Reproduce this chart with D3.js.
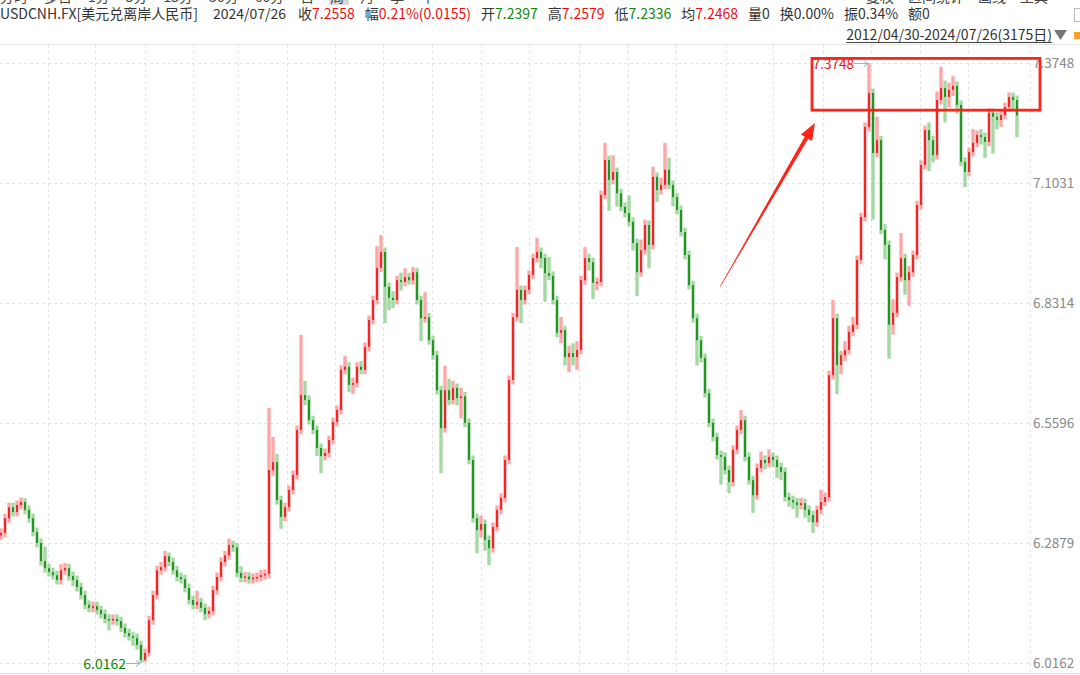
<!DOCTYPE html>
<html>
<head>
<meta charset="utf-8">
<script src="https://cdn.jsdelivr.net/npm/d3@7"></script>
<style>
  html, body { margin: 0; padding: 0; background: #fff; }
  svg { display: block; font-family: "Noto Sans CJK SC", "Noto Sans", sans-serif; }
</style>
</head>
<body>
<svg id="chart" width="1080" height="675"></svg>
<script>
/* ============================================================
   DATA — USDCNH, 2012/04/30 – 2024/07/26.
   Each candle stands for ~12 trading days.
   ============================================================ */

const opens = [
  6.305,6.311,6.344,6.369,6.358,6.374,6.381,6.363,6.344,6.313,
  6.288,6.247,6.231,6.222,6.215,6.204,6.226,6.231,6.213,6.204,
  6.188,6.170,6.148,6.141,6.145,6.136,6.127,6.116,6.113,6.116,
  6.111,6.096,6.084,6.077,6.073,6.057,6.023,6.039,6.113,6.170,
  6.226,6.233,6.258,6.245,6.226,6.211,6.206,6.186,6.159,6.148,
  6.154,6.141,6.127,6.134,6.181,6.211,6.245,6.260,6.283,6.278,
  6.220,6.209,6.212,6.206,6.209,6.211,6.215,6.218,6.453,6.471,
  6.385,6.347,6.369,6.408,6.442,6.544,6.623,6.612,6.566,6.544,
  6.503,6.485,6.492,6.521,6.562,6.589,6.680,6.687,6.646,6.650,
  6.687,6.680,6.732,6.793,6.838,6.911,6.947,6.868,6.843,6.838,
  6.883,6.879,6.890,6.883,6.901,6.838,6.797,6.799,6.747,6.713,
  6.634,6.548,6.634,6.612,6.639,6.616,6.620,6.560,6.476,6.344,
  6.317,6.331,6.295,6.276,6.324,6.363,6.390,6.476,6.657,6.799,
  6.861,6.838,6.861,6.895,6.933,6.947,6.933,6.899,6.893,6.838,
  6.764,6.770,6.709,6.718,6.709,6.725,6.883,6.933,6.924,6.877,
  6.879,7.076,7.155,7.110,7.128,7.080,7.049,7.035,7.015,6.967,
  6.901,6.951,7.008,6.963,7.117,7.087,7.099,7.133,7.099,7.071,
  7.042,6.992,6.940,6.872,6.797,6.747,6.707,6.627,6.560,6.528,
  6.487,6.483,6.453,6.426,6.499,6.544,6.566,6.483,6.430,6.396,
  6.458,6.476,6.469,6.483,6.476,6.460,6.449,6.392,6.385,6.380,
  6.374,6.378,6.363,6.351,6.335,6.363,6.381,6.392,6.668,6.797,
  6.691,6.713,6.725,6.766,6.782,6.929,7.026,7.230,7.307,7.171,
  7.200,6.997,6.963,6.782,6.809,6.890,6.933,6.883,6.901,6.940,
  7.053,7.144,7.223,7.200,7.166,7.291,7.318,7.298,7.314,7.323,
  7.280,7.151,7.128,7.173,7.194,7.212,7.207,7.196,7.262,7.253,
  7.246,7.257,7.275,7.298,7.291
];

const highs = [
  6.321,6.354,6.379,6.379,6.384,6.391,6.389,6.373,6.354,6.323,
  6.298,6.280,6.241,6.232,6.225,6.240,6.243,6.241,6.223,6.214,
  6.198,6.180,6.158,6.155,6.155,6.146,6.137,6.126,6.126,6.126,
  6.121,6.106,6.094,6.087,6.083,6.067,6.049,6.123,6.180,6.236,
  6.245,6.270,6.266,6.255,6.236,6.221,6.216,6.196,6.169,6.180,
  6.164,6.151,6.144,6.191,6.221,6.255,6.270,6.298,6.293,6.288,
  6.235,6.222,6.222,6.219,6.221,6.227,6.228,6.594,6.528,6.490,
  6.395,6.379,6.418,6.452,6.554,6.759,6.655,6.622,6.576,6.554,
  6.513,6.502,6.531,6.572,6.599,6.690,6.712,6.697,6.662,6.697,
  6.700,6.742,6.803,6.848,6.960,6.985,6.957,6.878,6.858,6.893,
  6.900,6.910,6.900,6.913,6.911,6.848,6.856,6.809,6.757,6.723,
  6.644,6.689,6.660,6.655,6.649,6.640,6.630,6.570,6.486,6.354,
  6.350,6.341,6.305,6.334,6.373,6.400,6.486,6.667,6.809,6.958,
  6.871,6.871,6.905,6.943,6.979,6.957,6.943,6.936,6.903,6.848,
  6.800,6.780,6.735,6.740,6.745,6.893,6.958,6.943,6.934,6.889,
  7.086,7.194,7.165,7.166,7.138,7.090,7.059,7.075,7.025,6.977,
  6.975,7.020,7.018,7.140,7.127,7.115,7.194,7.160,7.109,7.081,
  7.052,7.002,6.950,6.882,6.807,6.757,6.717,6.637,6.570,6.538,
  6.497,6.493,6.463,6.509,6.554,6.589,6.576,6.493,6.440,6.468,
  6.495,6.486,6.500,6.493,6.486,6.470,6.459,6.402,6.395,6.390,
  6.390,6.388,6.373,6.361,6.373,6.408,6.402,6.678,6.838,6.807,
  6.723,6.745,6.780,6.800,6.939,7.036,7.240,7.3748,7.317,7.253,
  7.210,7.010,6.973,6.840,6.900,6.990,6.943,6.915,6.950,7.063,
  7.154,7.233,7.240,7.210,7.310,7.366,7.335,7.330,7.345,7.333,
  7.290,7.161,7.183,7.225,7.222,7.225,7.217,7.272,7.272,7.263,
  7.267,7.285,7.308,7.308,7.301
];

const lows = [
  6.295,6.301,6.334,6.348,6.348,6.364,6.353,6.334,6.303,6.278,
  6.237,6.221,6.212,6.205,6.194,6.194,6.216,6.203,6.190,6.178,
  6.160,6.138,6.131,6.131,6.126,6.117,6.106,6.090,6.103,6.101,
  6.086,6.074,6.067,6.055,6.047,6.0162,6.018,6.031,6.103,6.160,
  6.216,6.223,6.235,6.216,6.201,6.196,6.176,6.149,6.138,6.138,
  6.131,6.113,6.117,6.124,6.171,6.201,6.235,6.250,6.268,6.210,
  6.199,6.199,6.196,6.196,6.199,6.201,6.205,6.208,6.440,6.375,
  6.320,6.337,6.359,6.398,6.432,6.534,6.600,6.556,6.534,6.485,
  6.446,6.475,6.482,6.511,6.552,6.579,6.670,6.630,6.625,6.640,
  6.670,6.670,6.722,6.783,6.828,6.901,6.786,6.815,6.820,6.828,
  6.860,6.869,6.873,6.873,6.828,6.745,6.787,6.737,6.703,6.624,
  6.446,6.538,6.600,6.602,6.600,6.570,6.550,6.466,6.334,6.265,
  6.300,6.270,6.238,6.266,6.314,6.353,6.380,6.466,6.647,6.789,
  6.786,6.828,6.851,6.885,6.923,6.910,6.834,6.883,6.828,6.754,
  6.740,6.690,6.675,6.690,6.680,6.715,6.873,6.905,6.840,6.860,
  6.869,7.066,7.040,7.100,7.050,7.039,7.025,7.005,6.950,6.847,
  6.891,6.941,6.910,6.953,7.060,7.077,7.089,7.089,7.050,7.032,
  6.982,6.930,6.862,6.787,6.690,6.697,6.617,6.550,6.518,6.477,
  6.420,6.443,6.401,6.416,6.489,6.534,6.473,6.420,6.356,6.386,
  6.448,6.455,6.459,6.460,6.435,6.430,6.382,6.370,6.365,6.345,
  6.364,6.345,6.335,6.3105,6.325,6.353,6.371,6.382,6.658,6.625,
  6.670,6.700,6.715,6.756,6.772,6.919,7.016,7.220,7.020,7.161,
  6.987,6.930,6.705,6.760,6.799,6.880,6.850,6.825,6.891,6.930,
  7.043,7.134,7.130,7.150,7.156,7.281,7.240,7.275,7.300,7.260,
  7.141,7.094,7.118,7.163,7.184,7.190,7.160,7.186,7.170,7.225,
  7.230,7.247,7.265,7.270,7.207
];

const closes = [
  6.311,6.344,6.369,6.358,6.374,6.381,6.363,6.344,6.313,6.288,
  6.247,6.231,6.222,6.215,6.204,6.226,6.231,6.213,6.204,6.188,
  6.170,6.148,6.141,6.145,6.136,6.127,6.116,6.113,6.116,6.111,
  6.096,6.084,6.077,6.073,6.057,6.023,6.039,6.113,6.170,6.226,
  6.233,6.258,6.245,6.226,6.211,6.206,6.186,6.159,6.148,6.154,
  6.141,6.127,6.134,6.181,6.211,6.245,6.260,6.283,6.278,6.220,
  6.209,6.212,6.206,6.209,6.211,6.215,6.218,6.453,6.471,6.385,
  6.347,6.369,6.408,6.442,6.544,6.623,6.612,6.566,6.544,6.503,
  6.485,6.492,6.521,6.562,6.589,6.680,6.687,6.646,6.650,6.687,
  6.680,6.732,6.793,6.838,6.911,6.947,6.868,6.843,6.838,6.883,
  6.879,6.890,6.883,6.901,6.838,6.797,6.799,6.747,6.713,6.634,
  6.548,6.634,6.612,6.639,6.616,6.620,6.560,6.476,6.344,6.317,
  6.331,6.295,6.276,6.324,6.363,6.390,6.476,6.657,6.799,6.861,
  6.838,6.861,6.895,6.933,6.947,6.933,6.899,6.893,6.838,6.764,
  6.770,6.709,6.718,6.709,6.725,6.883,6.933,6.924,6.877,6.879,
  7.076,7.155,7.110,7.128,7.080,7.049,7.035,7.015,6.967,6.901,
  6.951,7.008,6.963,7.117,7.087,7.099,7.133,7.099,7.071,7.042,
  6.992,6.940,6.872,6.797,6.747,6.707,6.627,6.560,6.528,6.487,
  6.483,6.453,6.426,6.499,6.544,6.566,6.483,6.430,6.396,6.458,
  6.476,6.469,6.483,6.476,6.460,6.449,6.392,6.385,6.380,6.374,
  6.378,6.363,6.351,6.335,6.363,6.381,6.392,6.668,6.797,6.691,
  6.713,6.725,6.766,6.782,6.929,7.026,7.230,7.307,7.171,7.200,
  6.997,6.963,6.782,6.809,6.890,6.933,6.883,6.901,6.940,7.053,
  7.144,7.223,7.200,7.166,7.291,7.318,7.298,7.314,7.323,7.280,
  7.151,7.128,7.173,7.194,7.212,7.207,7.196,7.262,7.253,7.246,
  7.257,7.275,7.298,7.291,7.2558
];

// right-hand price ticks
const priceTicks = [6.0162, 6.2879, 6.5596, 6.8314, 7.1031, 7.3748];

// vertical grid lines, in candle-slot units
const gridSlots = [11.75, 23.4, 35.9, 48, 59.25, 71.4, 83.5, 95.5, 107.75, 120,
                   132, 144.5, 156.75, 168.75, 181.25, 193, 205.4, 217.5, 229.75, 241.75];

// quote header
const quoteTitle = 'USDCNH.FX[美元兑离岸人民币]';
const quoteDate  = '2024/07/26';
const quoteLabels = ['收', '幅', '开', '高', '低', '均', '量', '换', '振', '额'];
const quoteValues = ['7.2558', '0.21%(0.0155)', '7.2397', '7.2579', '7.2336', '7.2468', '0', '0.00%', '0.34%', '0'];
const quoteTones  = ['up', 'up', 'down', 'up', 'down', 'up', 'flat', 'flat', 'flat', 'flat'];
const rangeLabel  = '2012/04/30-2024/07/26(3175日)';

// clipped toolbar row at the very top
const toolbarLeft  = ['分时', '多日', '1分', '5分', '15分', '30分', '60分', '日', '周', '月', '季', '年'];
const toolbarRight = ['复权', '区间统计', '画线', '工具'];


/* ============================================================
   LAYOUT / STYLE
   ============================================================ */

const COLORS = {
  up:     '#ee1111',
  down:   '#0d870d',
  upWick: '#ff8a8a',
  dnWick: '#86cc86',
  flat:   '#333333',
  text:   '#333333',
  axis:   '#888888',
  grid:   '#e3e3e3',
  mark:   '#ff2418',
  lead:   '#8fb6d8',
};

const PLOT = { left: 0, right: 1030, top: 45, bottom: 673 };

const svg = d3.select('#chart');

const x = d3.scaleLinear()
  .domain([0, closes.length - 1])
  .range([1, 1017]);

const y = d3.scaleLinear()
  .domain([d3.min(lows), d3.max(highs)])
  .range([663, 63]);

const px = v => Math.round(v) + 0.5;


/* ============================================================
   FRAME + GRID
   ============================================================ */

svg.append('line')
  .attr('x1', 0).attr('x2', 1080)
  .attr('y1', PLOT.top - 0.5).attr('y2', PLOT.top - 0.5)
  .attr('stroke', '#e6e6e6');

svg.append('line')
  .attr('x1', 0).attr('x2', 1080)
  .attr('y1', PLOT.bottom + 0.5).attr('y2', PLOT.bottom + 0.5)
  .attr('stroke', '#dcdcdc');

const grid = svg.append('g').attr('class', 'grid')
  .attr('stroke', COLORS.grid)
  .attr('stroke-dasharray', '3,3');

grid.selectAll('line.h')
  .data(priceTicks)
  .join('line')
  .attr('class', 'h')
  .attr('x1', PLOT.left).attr('x2', PLOT.right)
  .attr('y1', d => px(y(d))).attr('y2', d => px(y(d)));

grid.selectAll('line.v')
  .data(gridSlots)
  .join('line')
  .attr('class', 'v')
  .attr('x1', d => px(x(d))).attr('x2', d => px(x(d)))
  .attr('y1', PLOT.top).attr('y2', PLOT.bottom);

grid.append('line')
  .attr('x1', PLOT.right + 0.5).attr('x2', PLOT.right + 0.5)
  .attr('y1', PLOT.top).attr('y2', PLOT.bottom);


/* ============================================================
   CANDLES
   Wide pale wicks + narrow dark bodies, so the dense daily
   candles of the original read as one fuzzy band.
   ============================================================ */

const candles = closes.map((c, i) => ({
  i, o: opens[i], h: highs[i], l: lows[i], c,
  up: c >= opens[i],
}));

const cg = svg.append('g').attr('class', 'candles');

cg.selectAll('line')
  .data(candles)
  .join('line')
  .attr('x1', d => x(d.i)).attr('x2', d => x(d.i))
  .attr('y1', d => y(d.h)).attr('y2', d => y(d.l))
  .attr('stroke', d => d.up ? COLORS.upWick : COLORS.dnWick)
  .attr('stroke-opacity', 0.75)
  .attr('stroke-width', 3.4);

cg.selectAll('rect')
  .data(candles)
  .join('rect')
  .attr('x', d => x(d.i) - 1)
  .attr('width', 2)
  .attr('y', d => y(Math.max(d.o, d.c)))
  .attr('height', d => Math.max(1.5, Math.abs(y(d.o) - y(d.c))))
  .attr('fill', d => d.up ? COLORS.up : COLORS.down)
  .attr('fill-opacity', 0.85);


/* ============================================================
   PRICE AXIS (right)
   ============================================================ */

svg.append('g').attr('class', 'axis')
  .selectAll('text')
  .data(priceTicks)
  .join('text')
  .attr('x', 1033)
  .attr('y', d => y(d) + 5)
  .attr('font-size', 13.5)
  .attr('fill', COLORS.axis)
  .text(d => d.toFixed(4));


/* ============================================================
   EXTREME MARKERS
   ============================================================ */

function extremeMarker(idx, value, color, size) {
  const cx = x(idx), cy = px(y(value));
  const g = svg.append('g');
  g.append('line')
    .attr('x1', cx - 15).attr('x2', cx - 1)
    .attr('y1', cy).attr('y2', cy)
    .attr('stroke', COLORS.lead).attr('stroke-width', 1);
  g.append('path')
    .attr('d', `M${cx - 5},${cy - 3}L${cx - 1},${cy}L${cx - 5},${cy + 3}`)
    .attr('fill', 'none').attr('stroke', COLORS.lead);
  g.append('text')
    .attr('x', cx - 15).attr('y', cy + 5)
    .attr('text-anchor', 'end')
    .attr('font-size', size)
    .attr('fill', color)
    .text(value.toFixed(4));
}

extremeMarker(d3.maxIndex(highs), d3.max(highs), COLORS.up, 13.5);
extremeMarker(d3.minIndex(lows), d3.min(lows), COLORS.down, 14);


/* ============================================================
   ANNOTATION — red box round the highs + arrow
   ============================================================ */

const box = { from: 202.75, to: 259.75, top: 7.3852, bottom: 7.2680 };
svg.append('rect')
  .attr('x', x(box.from)).attr('y', y(box.top))
  .attr('width', x(box.to) - x(box.from))
  .attr('height', y(box.bottom) - y(box.top))
  .attr('fill', 'none')
  .attr('stroke', COLORS.mark)
  .attr('stroke-width', 2.8);

const arrow = { fromSlot: 179.75, fromPrice: 6.868, toSlot: 203.5, toPrice: 7.239 };
(function drawArrow() {
  const x0 = x(arrow.fromSlot), y0 = y(arrow.fromPrice);
  const x1 = x(arrow.toSlot),   y1 = y(arrow.toPrice);
  const len = Math.hypot(x1 - x0, y1 - y0);
  const ux = (x1 - x0) / len, uy = (y1 - y0) / len;
  const nx = -uy, ny = ux;
  const headLen = 17, headHalf = 6.5, shaftHalf = 2, tailHalf = 0.3;
  const bx = x1 - ux * headLen, by = y1 - uy * headLen;
  const pts = [
    [x0 + nx * tailHalf, y0 + ny * tailHalf],
    [bx + nx * shaftHalf, by + ny * shaftHalf],
    [bx + nx * headHalf, by + ny * headHalf],
    [x1, y1],
    [bx - nx * headHalf, by - ny * headHalf],
    [bx - nx * shaftHalf, by - ny * shaftHalf],
    [x0 - nx * tailHalf, y0 - ny * tailHalf],
  ];
  svg.append('path')
    .attr('d', d3.line()(pts) + 'Z')
    .attr('fill', COLORS.mark);
})();


/* ============================================================
   HEADER
   ============================================================ */

// clipped toolbar (only the bottom of the glyphs shows)
svg.append('rect')
  .attr('x', 329).attr('y', 0).attr('width', 20).attr('height', 5)
  .attr('fill', '#d9d9d9');
const tb = svg.append('g').attr('font-size', 14).attr('fill', '#444');
let tx = 0;
toolbarLeft.forEach(t => {
  const el = tb.append('text').attr('x', tx).attr('y', 1.5).text(t);
  tx += el.node().getComputedTextLength() + 16;
});
tx = 866;
toolbarRight.forEach(t => {
  const el = tb.append('text').attr('x', tx).attr('y', 1.5).text(t);
  tx += el.node().getComputedTextLength() + 14;
});

// quote line
const hdr = svg.append('g').attr('font-size', 14);
hdr.append('text').attr('x', 0).attr('y', 19).attr('fill', COLORS.text).text(quoteTitle);
hdr.append('text').attr('x', 213).attr('y', 19).attr('fill', COLORS.text).text(quoteDate);

let qx = 298;
quoteLabels.forEach((lab, i) => {
  const t = hdr.append('text').attr('x', qx).attr('y', 19);
  t.append('tspan').attr('fill', COLORS.text).text(lab);
  t.append('tspan').attr('fill', COLORS[quoteTones[i]]).text(quoteValues[i]);
  qx += t.node().getComputedTextLength() + 10;
});

// date range line
const rng = svg.append('text')
  .attr('x', 1052).attr('y', 40)
  .attr('text-anchor', 'end')
  .attr('font-size', 14)
  .attr('fill', COLORS.text)
  .text(rangeLabel);
const rb = rng.node().getBBox();
svg.append('line')
  .attr('x1', rb.x).attr('x2', rb.x + rb.width)
  .attr('y1', 42.5).attr('y2', 42.5)
  .attr('stroke', '#444');
svg.append('path')
  .attr('d', 'M1054,30L1067,30L1060.5,40Z')
  .attr('fill', '#777');
svg.append('rect')
  .attr('x', 1074).attr('y', 32).attr('width', 8).attr('height', 7)
  .attr('fill', '#f3a22a');
svg.append('rect')
  .attr('x', 1074.5).attr('y', 8.5).attr('width', 10).attr('height', 13)
  .attr('fill', 'none').attr('stroke', '#bbb');
</script>
</body>
</html>
